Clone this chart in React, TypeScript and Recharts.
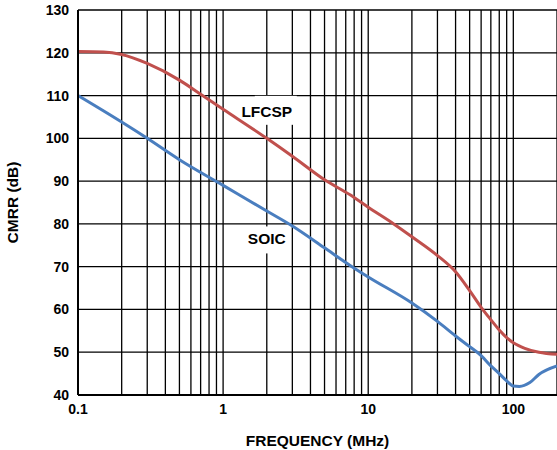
import React from 'react';
import {
  LineChart,
  Line,
  XAxis,
  YAxis,
  CartesianGrid,
  ReferenceDot,
} from 'recharts';

// 頻率軸格線位置（MHz）
const freqGrid = [
  0.1, 0.2, 0.3, 0.4, 0.5, 0.6, 0.7, 0.8, 0.9,
  1, 2, 3, 4, 5, 6, 7, 8, 9,
  10, 20, 30, 40, 50, 60, 70, 80, 90,
  100, 200,
];
const freqLabels = [0.1, 1, 10, 100];
const cmrrTicks = [40, 50, 60, 70, 80, 90, 100, 110, 120, 130];

// LFCSP 曲線
const lfcspFreq = [0.1, 0.15, 0.2, 0.3, 0.5, 0.7, 1, 2, 3, 5, 7.5, 10, 15, 20, 30, 40, 50, 60, 70, 80, 90, 100, 120, 150, 200];
const lfcspCmrr = [120.3, 120.2, 119.6, 117.5, 113.6, 110.3, 106.8, 100, 95.8, 90.3, 86.8, 83.9, 80, 77, 72.6, 68.8, 64.4, 60.5, 57.6, 55.2, 53.4, 52.2, 50.9, 50, 49.5];

// SOIC 曲線
const soicFreq = [0.1, 0.2, 0.3, 0.5, 1, 2, 3, 5, 7.5, 10, 20, 30, 40, 50, 60, 70, 80, 90, 100, 110, 130, 150, 200];
const soicCmrr = [110, 103.8, 100, 95, 89, 83, 79.5, 74.4, 70.3, 67.6, 61.5, 57.2, 53.8, 51.3, 49.2, 46.8, 45, 43.3, 42.1, 42, 42.9, 44.8, 46.8];

const lfcspData = lfcspFreq.map((f, i) => ({ f, v: lfcspCmrr[i] }));
const soicData = soicFreq.map((f, i) => ({ f, v: soicCmrr[i] }));

const colors = {
  lfcsp: '#C0504D',
  soic: '#4A7EBF',
};

const font = '"Liberation Sans", Arial, sans-serif';

// 曲線名稱標籤（白底遮住格線，box 相對於 cx/cy 的範圍）
const CurveLabel =
  (text: string, box: { l: number; r: number; t: number; b: number }) => (props: any) => {
    const { cx, cy } = props;
    return (
      <g>
        <rect x={cx + box.l} y={cy + box.t} width={box.r - box.l} height={box.b - box.t} fill="#fff" />
        <text
          x={cx}
          y={cy}
          textAnchor="middle"
          dominantBaseline="central"
          fontFamily={font}
          fontWeight="bold"
          fontSize={15.5}
          fill="#000"
        >
          {text}
        </text>
      </g>
    );
  };

export default function App() {
  return (
    <div style={{ position: 'absolute', left: 0, top: 0, width: 557, height: 450, background: '#fff' }}>
      <LineChart
        width={557}
        height={450}
        margin={{ top: 10, right: 0, left: 0, bottom: 0 }}
        style={{ fontFamily: font }}
      >
        <CartesianGrid stroke="#000" strokeWidth={1.3} />
        <XAxis
          dataKey="f"
          type="number"
          scale="log"
          domain={[0.1, 200]}
          ticks={freqGrid}
          allowDataOverflow
          height={55}
          tickLine={false}
          tickSize={0}
          tickMargin={9}
          interval={0}
          axisLine={{ stroke: '#000', strokeWidth: 2 }}
          tickFormatter={(v: number) => (freqLabels.includes(v) ? String(v) : '')}
          tick={{ fill: '#000', fontSize: 14, fontWeight: 'bold', fontFamily: font }}
          label={{
            value: 'FREQUENCY (MHz)',
            position: 'insideBottom',
            offset: 4,
            fill: '#000',
            fontSize: 15.5,
            fontWeight: 'bold',
            fontFamily: font,
          }}
        />
        <YAxis
          type="number"
          domain={[40, 130]}
          ticks={cmrrTicks}
          width={78}
          interval={0}
          tickLine={false}
          tickSize={0}
          tickMargin={9}
          axisLine={{ stroke: '#000', strokeWidth: 2 }}
          tick={{ fill: '#000', fontSize: 14, fontWeight: 'bold', fontFamily: font }}
          label={{
            value: 'CMRR (dB)',
            angle: -90,
            position: 'insideLeft',
            offset: 12,
            style: { textAnchor: 'middle' },
            fill: '#000',
            fontSize: 15.5,
            fontWeight: 'bold',
            fontFamily: font,
          }}
        />
        <ReferenceDot
          x={2}
          y={106.2}
          r={0}
          shape={CurveLabel('LFCSP', { l: -12, r: 30, t: -16, b: 13 })}
          ifOverflow="visible"
        />
        <ReferenceDot
          x={2}
          y={76.6}
          r={0}
          shape={CurveLabel('SOIC', { l: -20, r: 22, t: -12, b: 15 })}
          ifOverflow="visible"
        />
        <Line
          data={lfcspData}
          dataKey="v"
          type="monotone"
          stroke={colors.lfcsp}
          strokeWidth={3}
          dot={false}
          isAnimationActive={false}
        />
        <Line
          data={soicData}
          dataKey="v"
          type="monotone"
          stroke={colors.soic}
          strokeWidth={3}
          dot={false}
          isAnimationActive={false}
        />
      </LineChart>
    </div>
  );
}
